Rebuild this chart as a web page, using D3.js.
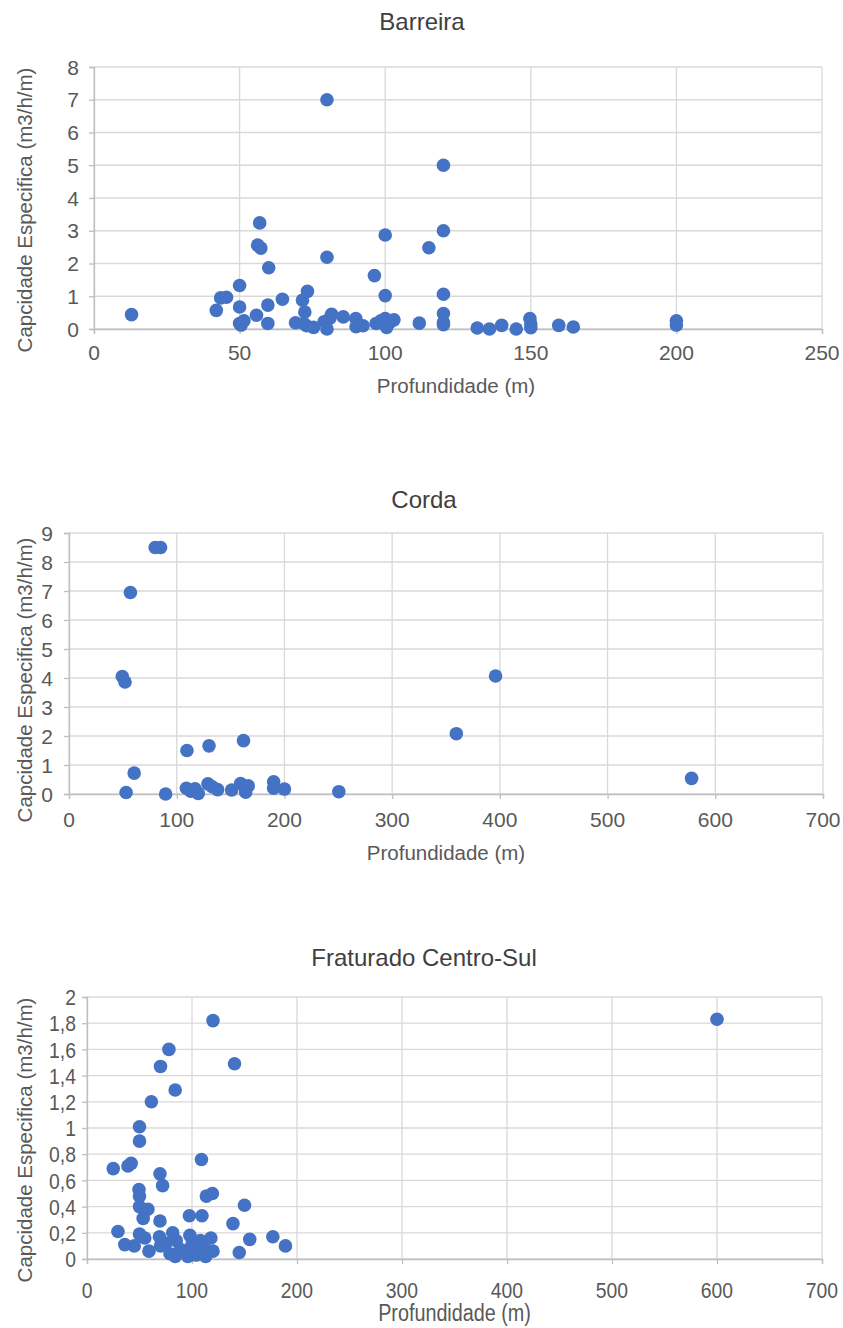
<!DOCTYPE html>
<html>
<head>
<meta charset="utf-8">
<script src="https://cdn.jsdelivr.net/npm/d3@7"></script>
<style>
  html, body { margin: 0; padding: 0; background: #fff; }
  svg text { font-family: "Liberation Sans", Arial, sans-serif; }
</style>
</head>
<body>
<svg id="fig" width="843" height="1328"></svg>
<script>
// Profundidade (m) vs Capacidade Específica (m3/h/m), one panel per aquifer

const barreiraDepth = [12.9, 42, 43.5, 45.5, 50, 50, 50, 50.5, 51.5, 56.9, 56.2, 57.3, 60, 55.8, 59.7, 59.7,
  64.7, 69.2, 71.6, 73.3, 72.4, 72, 73, 75.4, 80, 80, 79, 81, 80, 81.6, 85.6, 89.9, 90, 92.4,
  96.3, 96.9, 98.5, 100, 100, 100, 100.5, 101.5, 103, 111.7, 115, 120, 120, 120, 120, 120, 120,
  131.6, 135.8, 140, 145, 149.7, 150, 150, 159.6, 164.6, 200, 200];
const barreiraCap = [0.44, 0.57, 0.95, 0.97, 1.33, 0.67, 0.17, 0.12, 0.25, 3.24, 2.56, 2.47, 1.87, 0.42, 0.73, 0.17,
  0.91, 0.19, 0.88, 1.15, 0.52, 0.17, 0.1, 0.05, 7.0, 2.19, 0.22, 0.33, 0.0, 0.45, 0.37, 0.32, 0.07, 0.1,
  1.63, 0.17, 0.25, 2.87, 1.02, 0.32, 0.05, 0.2, 0.28, 0.18, 2.48, 5.0, 3.0, 1.06, 0.47, 0.2, 0.13,
  0.03, 0.0, 0.11, 0.0, 0.32, 0.15, 0.04, 0.11, 0.06, 0.25, 0.12];

const cordaDepth = [80, 85, 57, 49.5, 52, 60.5, 53, 89.7, 109.5, 130, 162, 109, 113, 117, 120, 129, 133, 138,
  151, 159.3, 166.4, 164, 190, 190, 200, 250.5, 359.6, 396, 578];
const cordaCap = [8.5, 8.5, 6.95, 4.05, 3.86, 0.72, 0.05, 0.0, 1.5, 1.66, 1.84, 0.2, 0.1, 0.18, 0.02, 0.35, 0.25, 0.15,
  0.14, 0.36, 0.28, 0.06, 0.42, 0.2, 0.17, 0.08, 2.08, 4.07, 0.54];

const fraturadoDepth = [120, 78, 70, 140.5, 84, 61.3, 50, 50, 25, 39, 42, 109, 69.5, 72, 49.5, 50, 113.7, 119.4,
  150, 50, 58, 53.5, 69.5, 97.5, 109.5, 139, 29.5, 36, 45, 50, 55, 59, 69, 75, 81.6, 85, 79, 84, 90,
  98, 100, 96, 104, 108, 112, 118, 120, 113, 155, 145, 177, 189, 87, 102, 70, 600];
const fraturadoCap = [1.82, 1.60, 1.47, 1.49, 1.29, 1.20, 1.01, 0.90, 0.69, 0.71, 0.73, 0.76, 0.65, 0.56, 0.53, 0.48, 0.48, 0.50,
  0.41, 0.40, 0.38, 0.31, 0.29, 0.33, 0.33, 0.27, 0.21, 0.11, 0.10, 0.19, 0.16, 0.06, 0.17, 0.12, 0.20, 0.14, 0.04, 0.02, 0.07,
  0.18, 0.11, 0.02, 0.03, 0.14, 0.08, 0.16, 0.06, 0.02, 0.15, 0.05, 0.17, 0.10, 0.05, 0.06, 0.10, 1.83];

const barreiraXTicks = [0, 50, 100, 150, 200, 250];
const barreiraYTicks = [0, 1, 2, 3, 4, 5, 6, 7, 8];
const cordaXTicks = [0, 100, 200, 300, 400, 500, 600, 700];
const cordaYTicks = [0, 1, 2, 3, 4, 5, 6, 7, 8, 9];
const fraturadoXTicks = [0, 100, 200, 300, 400, 500, 600, 700];
const fraturadoYTicks = [0, 0.2, 0.4, 0.6, 0.8, 1, 1.2, 1.4, 1.6, 1.8, 2];

const xTitle = "Profundidade (m)";
const yTitle = "Capcidade Especifica (m3/h/m)";

const ptBR = d3.formatLocale({ decimal: ",", thousands: ".", grouping: [3], currency: ["R$", ""] });
const fmtComma = ptBR.format("~g");

const svg = d3.select("#fig");
const dotColor = "#4472C4";
const gridColor = "#d9d9d9";
const textColor = "#595959";

function panel(cfg) {
  const g = svg.append("g");
  const x = d3.scaleLinear().domain(cfg.xDomain).range([cfg.left, cfg.right]);
  const y = d3.scaleLinear().domain(cfg.yDomain).range([cfg.bottom, cfg.top]);
  const sx = cfg.squeeze || 1;

  // title
  g.append("text")
    .attr("transform", `translate(${cfg.titleX},${cfg.titleY})`)
    .attr("text-anchor", "middle")
    .attr("font-size", cfg.titleSize)
    .attr("fill", "#404040")
    .text(cfg.title);

  // gridlines
  g.append("g").selectAll("line.h").data(cfg.yTicks).join("line")
    .attr("x1", cfg.left).attr("x2", cfg.right)
    .attr("y1", d => y(d)).attr("y2", d => y(d))
    .attr("stroke", gridColor).attr("stroke-width", 1.3);
  g.append("g").selectAll("line.v").data(cfg.xTicks).join("line")
    .attr("x1", d => x(d)).attr("x2", d => x(d))
    .attr("y1", cfg.top).attr("y2", cfg.bottom)
    .attr("stroke", gridColor).attr("stroke-width", 1.3);

  // axis lines with outside ticks
  const xAxis = d3.axisBottom(x).tickValues(cfg.xTicks).tickSize(5).tickFormat("");
  const yAxis = d3.axisLeft(y).tickValues(cfg.yTicks).tickSize(5).tickFormat("");
  const gx = g.append("g").attr("transform", `translate(0,${cfg.bottom})`).call(xAxis);
  const gy = g.append("g").attr("transform", `translate(${cfg.left},0)`).call(yAxis);
  [gx, gy].forEach(a => {
    a.selectAll("path, line").attr("stroke", "#bfbfbf").attr("stroke-width", 1.3);
  });

  // tick labels
  g.append("g").selectAll("text").data(cfg.xTicks).join("text")
    .attr("transform", d => `translate(${x(d)},${cfg.xLabelY}) scale(${sx},1)`)
    .attr("text-anchor", "middle")
    .attr("font-size", cfg.tickSize)
    .attr("fill", textColor)
    .text(d => cfg.fmt(d));
  g.append("g").selectAll("text").data(cfg.yTicks).join("text")
    .attr("transform", d => `translate(${cfg.yLabelX},${y(d)}) scale(${sx},1)`)
    .attr("text-anchor", "end")
    .attr("dy", "0.36em")
    .attr("font-size", cfg.tickSize)
    .attr("fill", textColor)
    .text(d => cfg.fmt(d));

  // axis titles
  g.append("text")
    .attr("transform", `translate(${(cfg.left + cfg.right) / 2 + (cfg.xTitleShift || 0)},${cfg.xTitleY}) scale(${sx},1)`)
    .attr("text-anchor", "middle")
    .attr("font-size", cfg.xTitleSize || cfg.axisTitleSize)
    .attr("fill", textColor)
    .text(xTitle);
  g.append("text")
    .attr("transform", `translate(${cfg.yTitleX},${cfg.yTitleCenter}) rotate(-90)`)
    .attr("text-anchor", "middle")
    .attr("font-size", cfg.axisTitleSize)
    .attr("fill", textColor)
    .text(yTitle);

  // points
  g.append("g").selectAll("circle").data(d3.range(cfg.xs.length)).join("circle")
    .attr("cx", i => x(cfg.xs[i]))
    .attr("cy", i => y(cfg.ys[i]))
    .attr("r", 6.8)
    .attr("fill", dotColor);
}

panel({
  title: "Barreira", xs: barreiraDepth, ys: barreiraCap,
  xDomain: [0, 250], yDomain: [0, 8], xTicks: barreiraXTicks, yTicks: barreiraYTicks,
  left: 94, right: 822, top: 67, bottom: 329,
  titleX: 422, titleY: 30, titleSize: 24,
  xLabelY: 360, yLabelX: 79, tickSize: 21,
  xTitleY: 393, xTitleShift: -2, yTitleX: 32, yTitleCenter: 210, axisTitleSize: 20.5,
  fmt: d3.format("d")
});

panel({
  title: "Corda", xs: cordaDepth, ys: cordaCap,
  xDomain: [0, 700], yDomain: [0, 9], xTicks: cordaXTicks, yTicks: cordaYTicks,
  left: 69, right: 823, top: 533, bottom: 794,
  titleX: 424, titleY: 508, titleSize: 24,
  xLabelY: 827, yLabelX: 53, tickSize: 21,
  xTitleY: 860, xTitleShift: 0, yTitleX: 32, yTitleCenter: 680, axisTitleSize: 20.5,
  fmt: d3.format("d")
});

panel({
  title: "Fraturado Centro-Sul", xs: fraturadoDepth, ys: fraturadoCap,
  xDomain: [0, 700], yDomain: [0, 2], xTicks: fraturadoXTicks, yTicks: fraturadoYTicks,
  left: 87, right: 822, top: 997, bottom: 1259,
  titleX: 424, titleY: 966, titleSize: 24,
  xLabelY: 1298, yLabelX: 76, tickSize: 22.5, squeeze: 0.86,
  xTitleY: 1321, xTitleShift: 0, yTitleX: 32, yTitleCenter: 1140, axisTitleSize: 20.5, xTitleSize: 23,
  fmt: fmtComma
});
</script>
</body>
</html>
